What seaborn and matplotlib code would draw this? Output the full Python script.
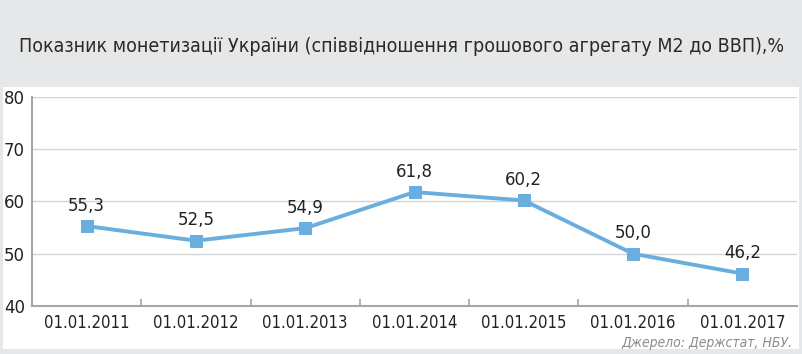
import pandas as pd
import matplotlib.pyplot as plt
import matplotlib.patches as mpatches
from matplotlib.ticker import FixedLocator
import seaborn as sns

dates = ['01.01.2011', '01.01.2012', '01.01.2013', '01.01.2014',
         '01.01.2015', '01.01.2016', '01.01.2017']
values = [55.3, 52.5, 54.9, 61.8, 60.2, 50.0, 46.2]
labels = ['55,3', '52,5', '54,9', '61,8', '60,2', '50,0', '46,2']

df = pd.DataFrame({'date': dates, 'value': values})

sns.set_theme(style="white")
plt.rcParams['font.family'] = ['DejaVu Sans']

fig = plt.figure(figsize=(8.03, 3.54), dpi=100)
fig.patch.set_facecolor('#e6e7e8')
# white panel behind the chart
fig.patches.append(mpatches.Rectangle((3 / 803, 1 - 349 / 354), 796 / 803, 262 / 354,
                                      transform=fig.transFigure, facecolor='white',
                                      edgecolor='none', zorder=-1))

ax = fig.add_axes([32 / 803, 1 - 306 / 354, 765 / 803, 209 / 354])
ax.set_facecolor('none')

line_color = '#6aaee0'
sns.lineplot(data=df, x='date', y='value', ax=ax, color=line_color, linewidth=2.8,
             marker='s', markersize=8.5, markeredgecolor=line_color, sort=False)

for i, (v, t) in enumerate(zip(values, labels)):
    ax.text(i, v + 2.2, t, ha='center', va='bottom', fontsize=12, color='#222222')

ax.set_xlim(-0.5, 6.5)
ax.set_ylim(40, 80)
ax.set_yticks([40, 50, 60, 70, 80])
ax.yaxis.grid(True, color='#d3d3d3', linewidth=1)
ax.set_axisbelow(True)
ax.set_xlabel('')
ax.set_ylabel('')

for s in ['top', 'right']:
    ax.spines[s].set_visible(False)
for s in ['left', 'bottom']:
    ax.spines[s].set_color('#a6a6a6')
    ax.spines[s].set_linewidth(1.5)

ax.tick_params(axis='y', length=0, labelsize=12, pad=5, labelcolor='#222222')
ax.tick_params(axis='x', which='major', length=0, labelsize=12, pad=6, labelcolor='#222222')
ax.xaxis.set_minor_locator(FixedLocator([0.5, 1.5, 2.5, 3.5, 4.5, 5.5]))
ax.tick_params(axis='x', which='minor', bottom=True, direction='in', length=5,
               color='#a6a6a6', width=1.2)
for lbl in ax.get_xticklabels():
    lbl.set_fontstretch('condensed')

fig.text(402 / 803, 1 - 47 / 354,
         'Показник монетизації України (співвідношення грошового агрегату М2 до ВВП),%',
         ha='center', va='center', fontsize=14, fontstretch='condensed', color='#2a2a2a')
fig.text(793 / 803, 1 - 343 / 354, 'Джерело: Держстат, НБУ.', ha='right', va='center',
         fontsize=10, style='italic', fontstretch='condensed', color='#8c8c8c')

fig.savefig('out.png', dpi=100, facecolor=fig.get_facecolor())
